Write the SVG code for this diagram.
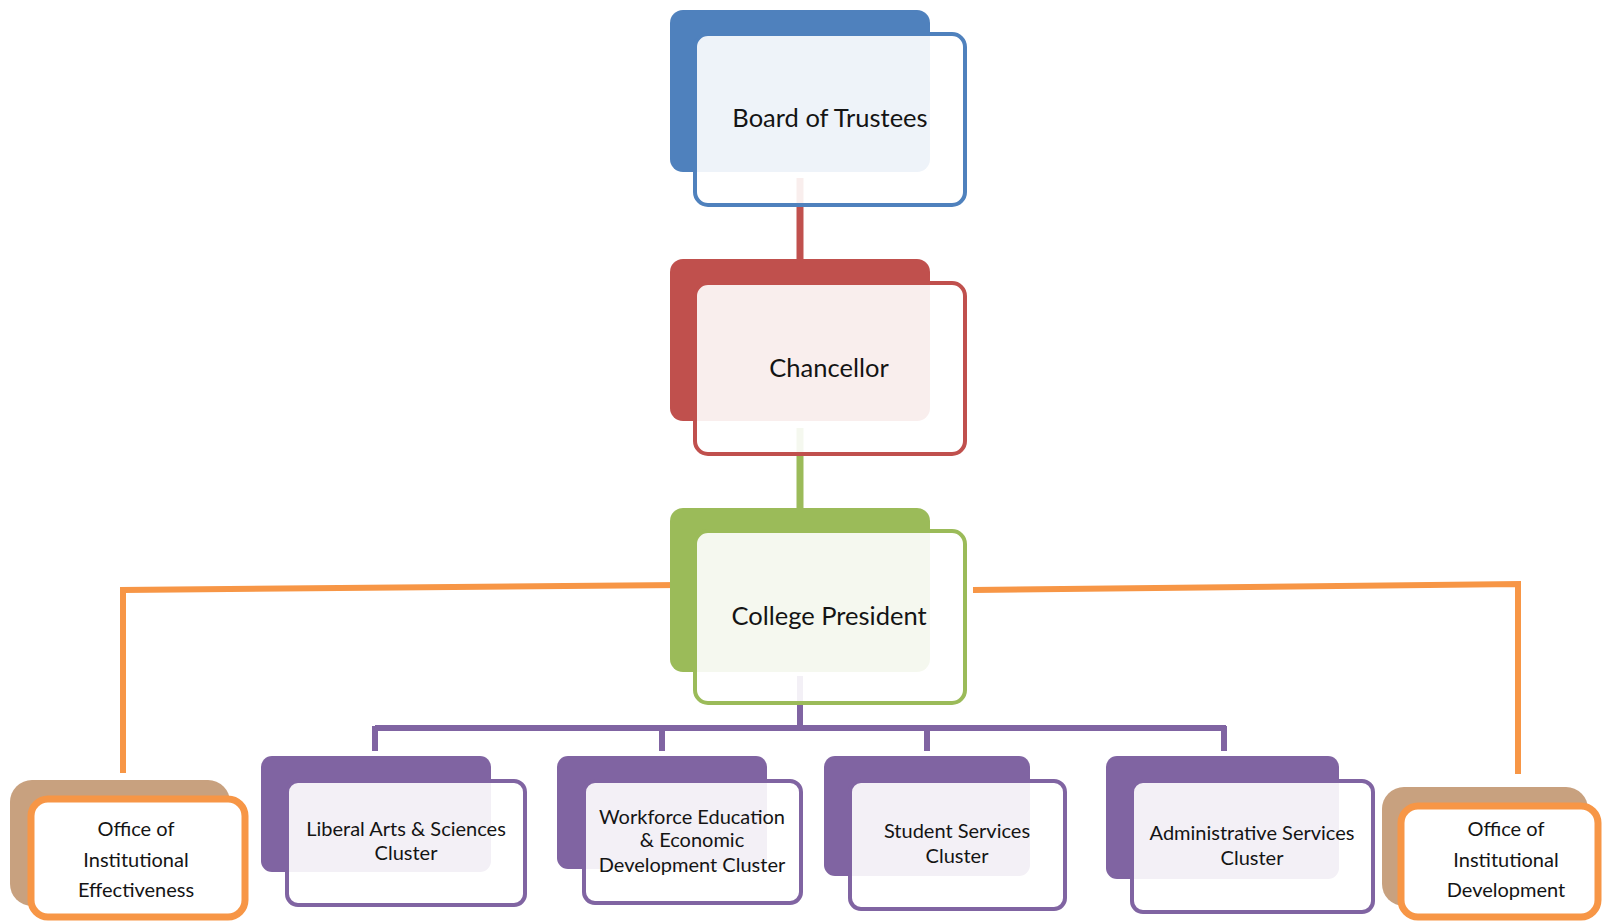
<svg xmlns="http://www.w3.org/2000/svg" width="1603" height="921" viewBox="0 0 1603 921">
<style>
.front{fill:#fff;fill-opacity:0.9;stroke-width:4}
.ofront{fill:#fff;stroke:#f79646;stroke-width:7}
.big{font-family:Lato,"Liberation Sans",sans-serif;font-size:25.5px;fill:#141414;text-anchor:middle}
.sm{font-family:Lato,"Liberation Sans",sans-serif;font-size:20px;fill:#141414;text-anchor:middle}
.c{fill:none;stroke-linecap:butt;stroke-linejoin:miter}
</style>
<rect width="1603" height="921" fill="#fff"/>
<g id="connectors">
<line class="c" x1="800" y1="178" x2="800" y2="262" stroke="#c0504d" stroke-width="7"/>
<line class="c" x1="800" y1="428" x2="800" y2="511" stroke="#9bbb59" stroke-width="7"/>
<path class="c" d="M800 676 V728 M375 728 H1226 M375 726 V751 M662 726 V751 M927 726 V751 M1224 726 V751" stroke="#8064a2" stroke-width="6"/>
<path class="c" d="M680 585 L123 590 V773" stroke="#f79646" stroke-width="6"/>
<path class="c" d="M973 590 L1518 584 V774" stroke="#f79646" stroke-width="6"/>
</g>
<g id="board">
<rect x="670" y="10" width="260" height="162" rx="13" fill="#4f81bd"/>
<rect class="front" x="695" y="34" width="270" height="171" rx="13" stroke="#4f81bd"/>
<text class="big" x="830" y="127">Board of Trustees</text>
</g>
<g id="chancellor">
<rect x="670" y="259" width="260" height="162" rx="13" fill="#c0504d"/>
<rect class="front" x="695" y="283" width="270" height="171" rx="13" stroke="#c0504d"/>
<text class="big" x="829" y="377">Chancellor</text>
</g>
<g id="president">
<rect x="670" y="508" width="260" height="164" rx="13" fill="#9bbb59"/>
<rect class="front" x="695" y="531" width="270" height="172" rx="13" stroke="#9bbb59"/>
<text class="big" x="829" y="625">College President</text>
</g>
<g id="oie">
<rect x="10" y="780" width="220" height="126" rx="22" fill="#c8a17f"/>
<rect class="ofront" x="31" y="799" width="214" height="118" rx="17"/>
<text class="sm" x="136" y="836">Office of</text>
<text class="sm" x="136" y="867">Institutional</text>
<text class="sm" x="136" y="897">Effectiveness</text>
</g>
<g id="liberal">
<rect x="261" y="756" width="230" height="116" rx="11" fill="#8064a2"/>
<rect class="front" x="287" y="781" width="238" height="124" rx="11" stroke="#8064a2"/>
<text class="sm" x="406" y="836">Liberal Arts &amp; Sciences</text>
<text class="sm" x="406" y="860">Cluster</text>
</g>
<g id="workforce">
<rect x="557" y="756" width="210" height="113" rx="11" fill="#8064a2"/>
<rect class="front" x="584" y="781" width="217" height="122" rx="11" stroke="#8064a2"/>
<text class="sm" x="692" y="824">Workforce Education</text>
<text class="sm" x="692" y="847">&amp; Economic</text>
<text class="sm" x="692" y="872">Development Cluster</text>
</g>
<g id="student">
<rect x="824" y="756" width="206" height="120" rx="11" fill="#8064a2"/>
<rect class="front" x="850" y="781" width="215" height="128" rx="11" stroke="#8064a2"/>
<text class="sm" x="957" y="838">Student Services</text>
<text class="sm" x="957" y="863">Cluster</text>
</g>
<g id="admin">
<rect x="1106" y="756" width="233" height="123" rx="11" fill="#8064a2"/>
<rect class="front" x="1132" y="781" width="241" height="131" rx="11" stroke="#8064a2"/>
<text class="sm" x="1252" y="840">Administrative Services</text>
<text class="sm" x="1252" y="865">Cluster</text>
</g>
<g id="oid">
<rect x="1382" y="787" width="206" height="119" rx="22" fill="#c8a17f"/>
<rect class="ofront" x="1401" y="806" width="197" height="111" rx="17"/>
<text class="sm" x="1506" y="836">Office of</text>
<text class="sm" x="1506" y="867">Institutional</text>
<text class="sm" x="1506" y="897">Development</text>
</g>
</svg>
